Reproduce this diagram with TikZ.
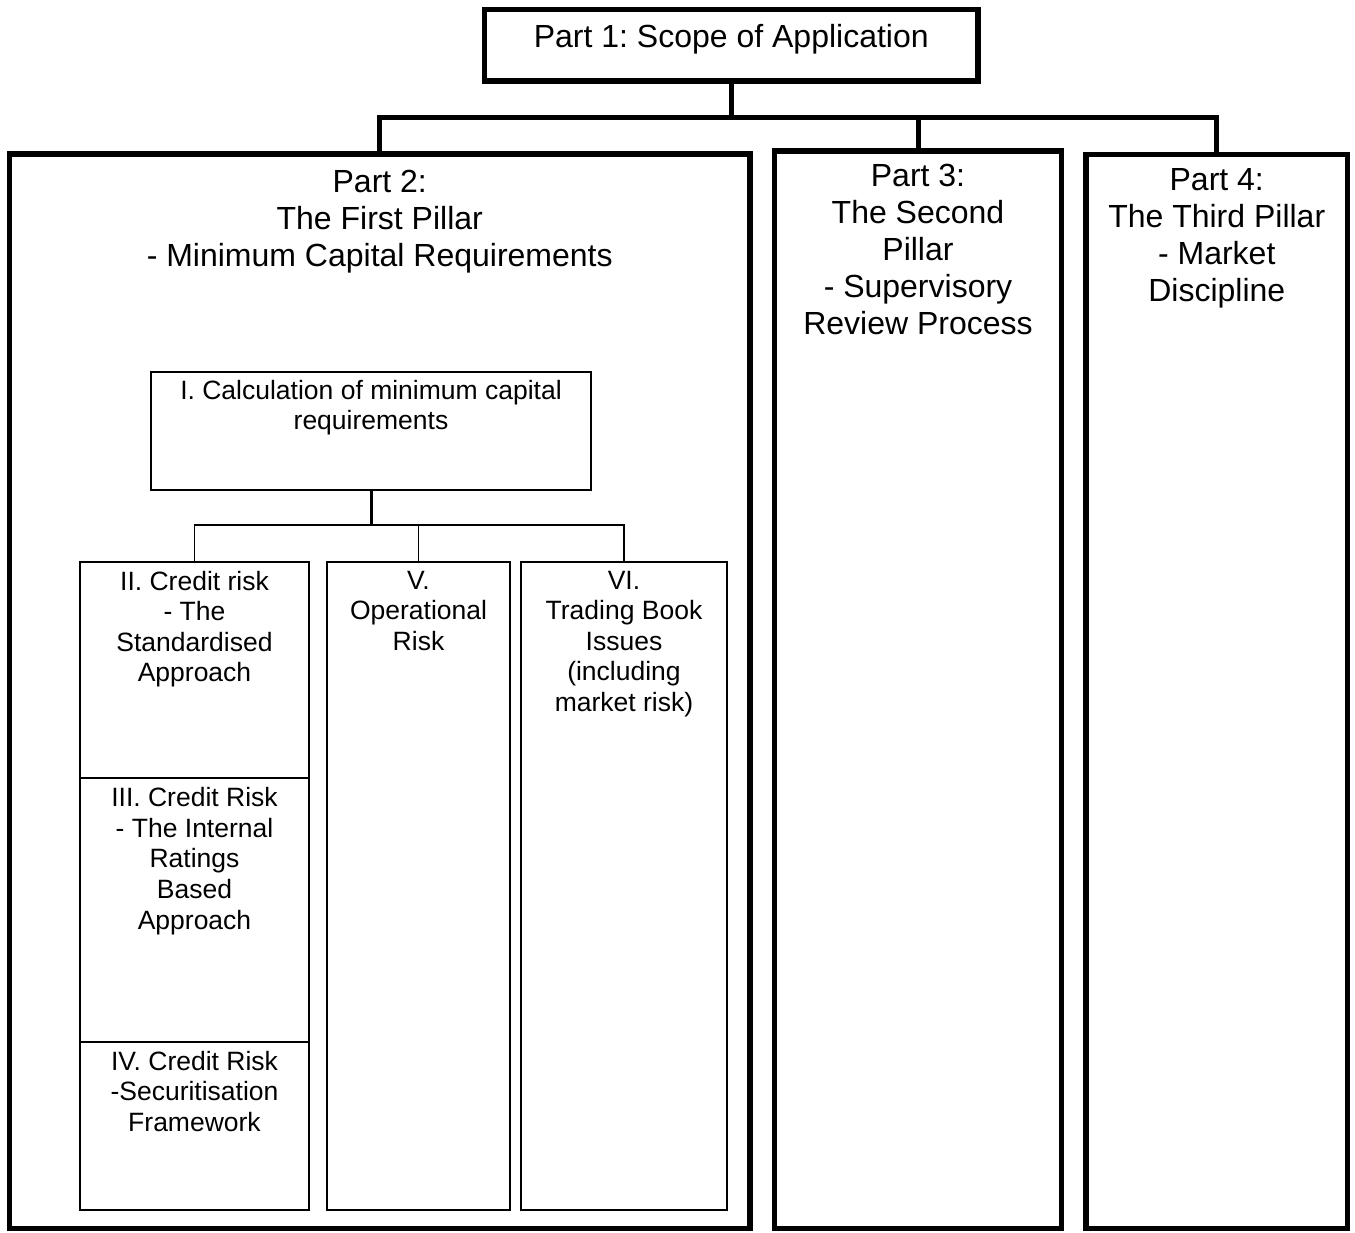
\documentclass[tikz,border=0pt]{standalone}
\usepackage{fontspec}
\setmainfont{Liberation Sans}
\frenchspacing
\usetikzlibrary{positioning}
\tikzset{bigbox/.style={draw, rectangle, line width=2.75pt, inner sep=0pt},
 smallbox/.style={draw, rectangle, line width=1pt, inner sep=0pt},
 bigtext/.style={align=center, inner sep=0pt, font=\fontsize{16}{18.5}\selectfont},
 smalltext/.style={align=center, inner sep=0pt, font=\fontsize{13.25}{15.3}\selectfont},
 thickline/.style={line width=2.5pt},
 thinline/.style={line width=0.75pt},
 }

\begin{document}
\begin{tikzpicture}[x=0.5pt, y=-0.5pt]
        \fill[white] (0,0) rectangle (1355,1232);
        \useasboundingbox (0,0) rectangle (1355,1232);
        \node[bigbox, minimum width=246.75pt, minimum height=35.75pt] (part1) at (731.25,45.25) {};
        \node[bigbox, minimum width=370.25pt, minimum height=537.25pt] (part2) at (379.75,691.25) {};
        \node[bigbox, minimum width=143.5pt, minimum height=538.75pt] (part3) at (918,689.75) {};
        \node[bigbox, minimum width=130.75pt, minimum height=537pt] (part4) at (1216.75,691.5) {};
        \node[bigtext, below=8.4pt of part1.north] (part1t) {Part 1: Scope of Application};
        \node[bigtext, below=9.5pt of part2.north] (part2t) {Part 2:\\The First Pillar\\- Minimum Capital Requirements};
        \node[bigtext, below=7.8pt of part3.north] (part3t) {Part 3:\\The Second\\Pillar\\- Supervisory\\Review Process};
        \node[bigtext, below=8pt of part4.north] (part4t) {Part 4:\\The Third Pillar\\- Market\\Discipline};
        \coordinate (topbar) at (731.25,117.5);
        \draw[thickline] (part1.south) -- (topbar);
        \draw[thickline] (part2.north) |- (topbar) -| (part4.north);
        \draw[thickline] (part3.north) -- (part3.north |- topbar);
        \node[smallbox, minimum width=220pt, minimum height=59pt] (calc) at (371,431) {};
        \node[smallbox, minimum width=114.5pt, minimum height=108pt] (credit) at (194.5,670) {};
        \node[smallbox, minimum width=114.5pt, minimum height=132pt] (irb) at (194.5,910) {};
        \node[smallbox, minimum width=114.5pt, minimum height=84pt] (securit) at (194.5,1126) {};
        \node[smallbox, minimum width=91.5pt, minimum height=324pt] (oprisk) at (418.5,886) {};
        \node[smallbox, minimum width=103pt, minimum height=324pt] (trading) at (624,886) {};
        \node[smalltext, below=4.25pt of calc.north] (calct) {I. Calculation of minimum capital\\requirements};
        \node[smalltext, below=4.75pt of credit.north] (creditt) {II. Credit risk\\- The\\Standardised\\Approach};
        \node[smalltext, below=5pt of irb.north] (irbt) {III. Credit Risk\\- The Internal\\Ratings\\Based\\Approach};
        \node[smalltext, below=4.75pt of securit.north] (securitt) {IV. Credit Risk\\-Securitisation\\Framework};
        \node[smalltext, below=4.75pt of oprisk.north] (opriskt) {V.\\Operational\\Risk};
        \node[smalltext, below=4.75pt of trading.north] (tradingt) {VI.\\Trading Book\\Issues\\(including\\market risk)};
        \coordinate (midbar) at (371,525);
        \draw[line width=1.5pt] (calc.south) -- (midbar);
        \draw[thinline] (credit.north) |- (midbar) -| (trading.north);
        \draw[thinline] (oprisk.north) -- (oprisk.north |- midbar);
    \end{tikzpicture}
\end{document}
